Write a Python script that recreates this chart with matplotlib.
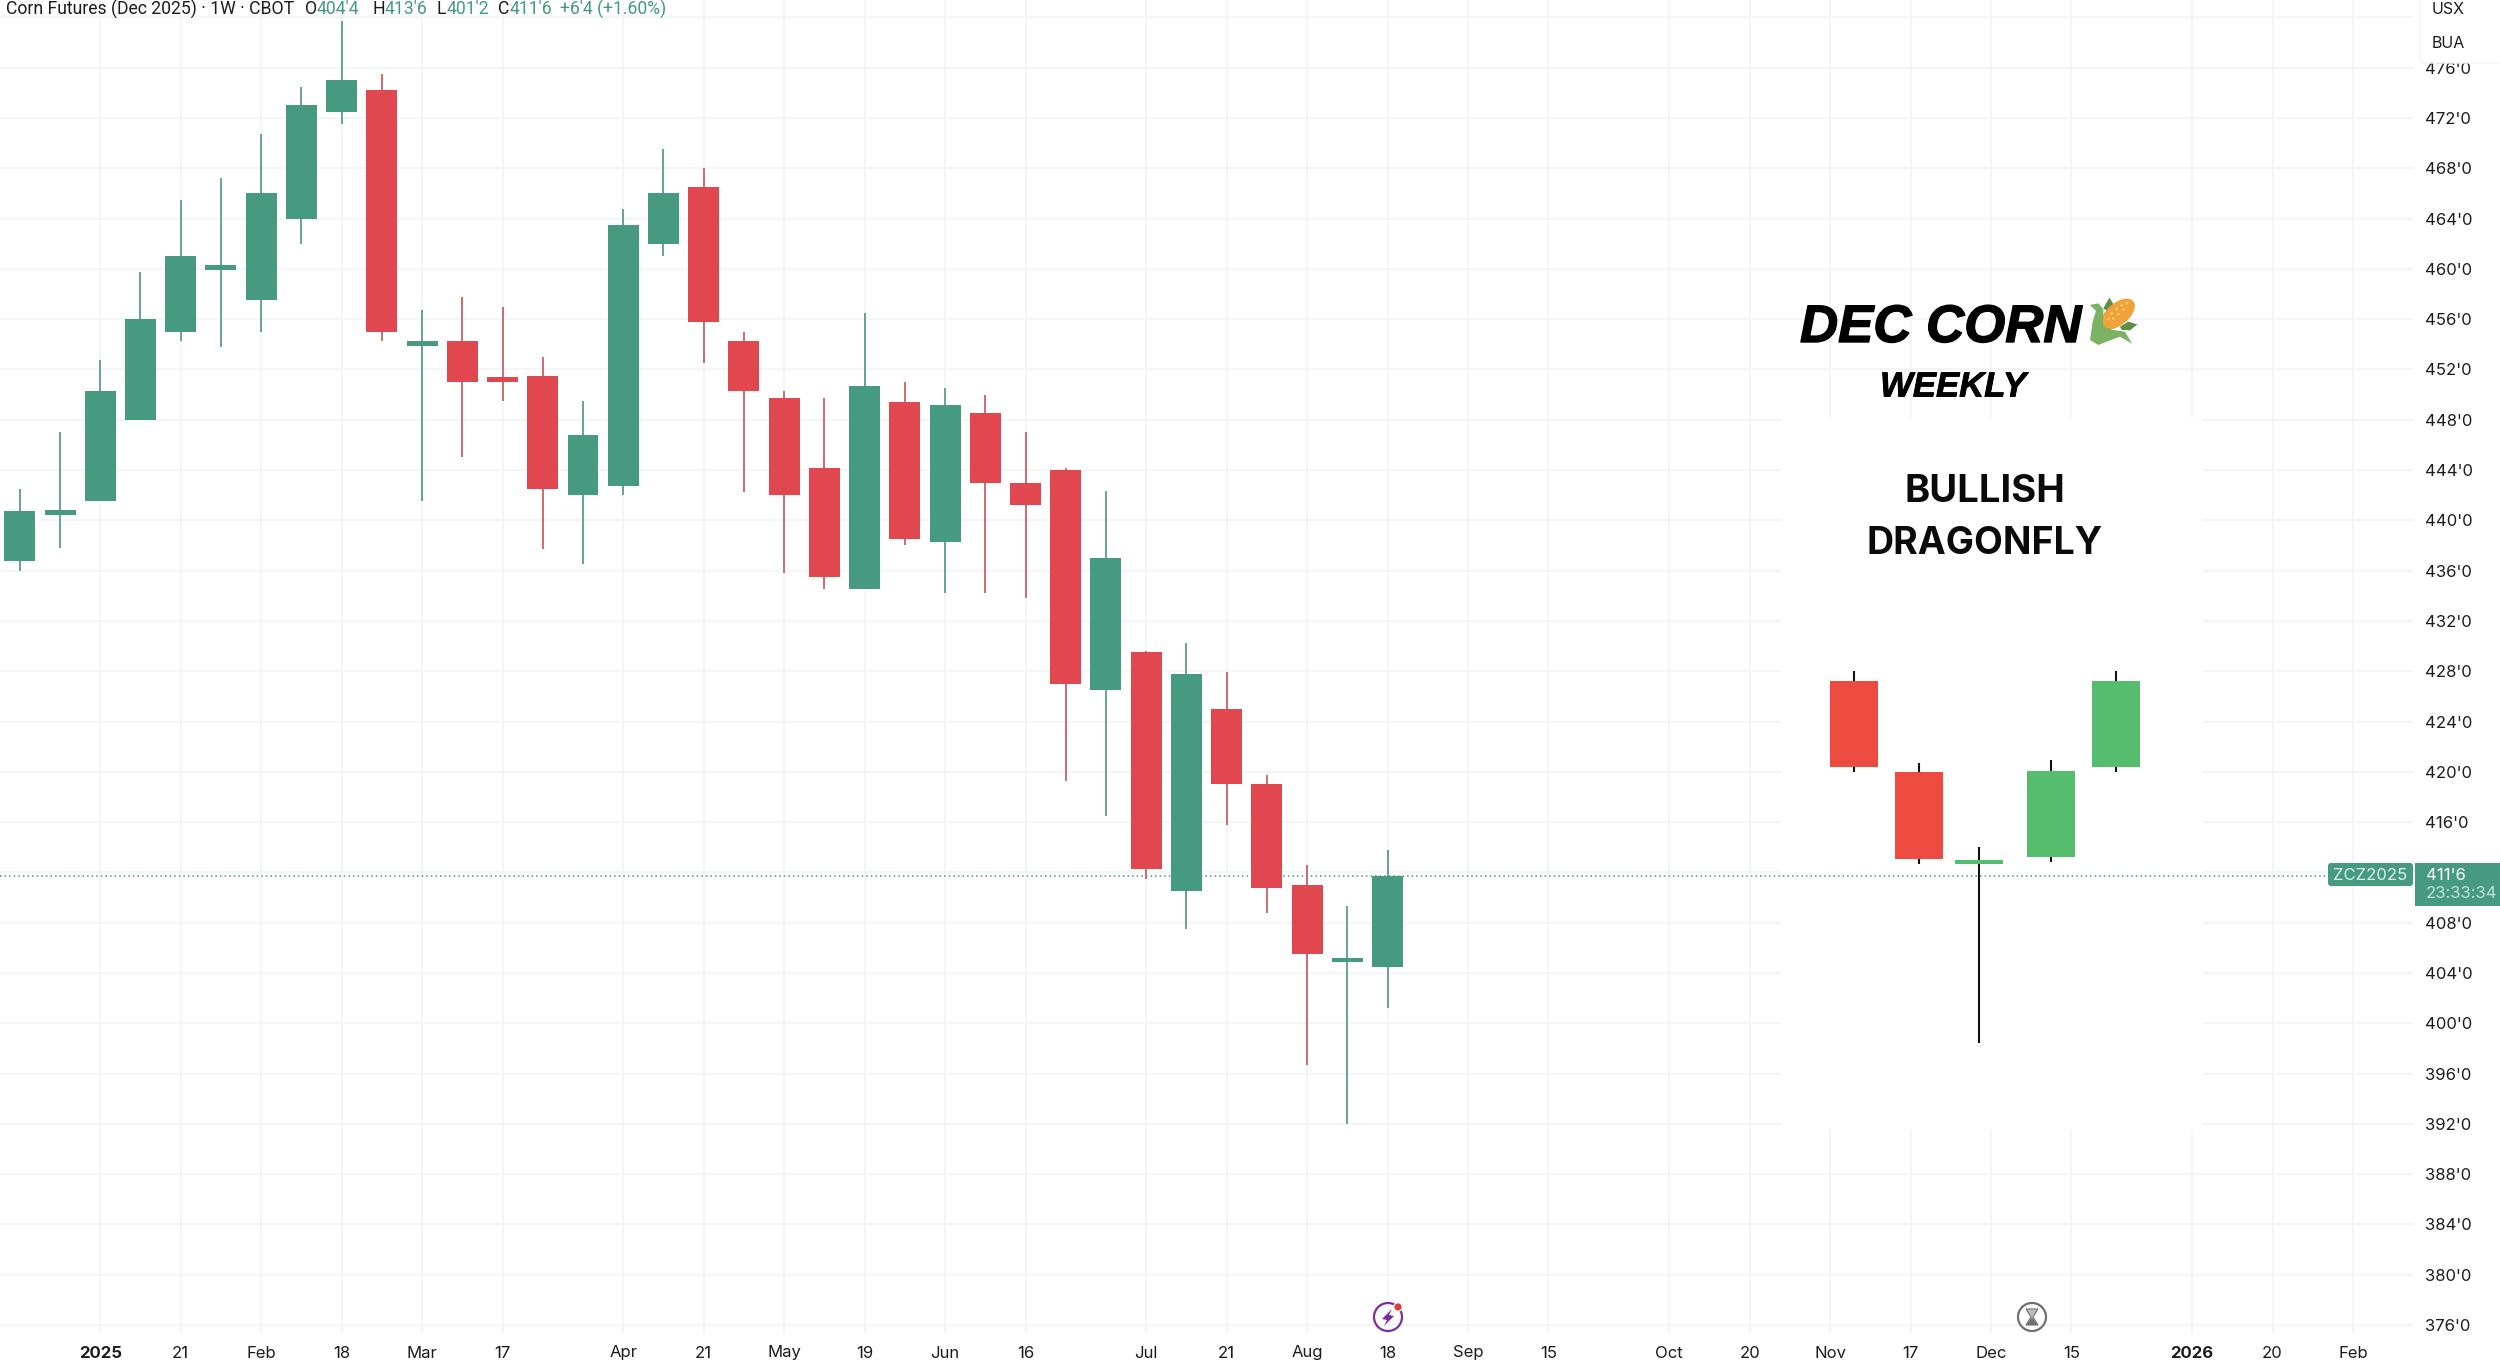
import matplotlib
matplotlib.use("Agg")
import matplotlib.pyplot as plt
import matplotlib.patheffects as pe
from matplotlib.patches import Rectangle, FancyBboxPatch, Circle, Ellipse, Polygon

# ---- data ----
opens = [436.75, 440.4, 441.5, 448, 455, 459.9, 457.5, 464, 472.5, 474.25, 453.9, 454.25, 451.4, 451.5, 442, 442.75, 462,
         466.5, 454.25, 449.75, 444.2, 434.5, 449.4, 438.25, 448.5, 443, 444, 426.5, 429.5, 410.5, 425, 419, 411, 404.85, 404.5]
closes = [440.75, 440.8, 450.25, 456, 461, 460.3, 466, 473, 475, 455, 454.3, 451, 451, 442.5, 446.75, 463.5, 466,
          455.75, 450.25, 442, 435.5, 450.7, 438.5, 449.2, 443, 441.2, 427, 437, 412.25, 427.75, 419, 410.75, 405.5, 405.2, 411.75]
highs = [442.5, 447, 452.75, 459.75, 465.5, 467.2, 470.75, 474.5, 479.75, 475.5, 456.75, 457.75, 457, 453, 449.5, 464.75, 469.5,
         468, 455, 450.25, 449.7, 456.5, 451, 450.5, 450, 447, 444.2, 442.3, 429.6, 430.25, 427.9, 419.75, 412.6, 409.35, 413.75]
lows = [436, 437.8, 441.5, 448, 454.3, 453.8, 455, 462, 471.5, 454.25, 441.5, 445, 449.5, 437.75, 436.5, 442, 461,
        452.5, 442.25, 435.8, 434.5, 434.5, 438, 434.2, 434.2, 433.8, 419.25, 416.5, 411.5, 407.5, 415.8, 408.8, 396.7, 392, 401.25]

x_tick_pos = [2, 4, 6, 8, 10, 12, 15, 17, 19, 21, 23, 25, 28, 30, 32, 34, 36, 38, 41, 43, 45, 47, 49, 51, 54, 56, 58]
x_tick_labels = ["2025", "21", "Feb", "18", "Mar", "17", "Apr", "21", "May", "19", "Jun", "16", "Jul", "21", "Aug", "18",
                 "Sep", "15", "Oct", "20", "Nov", "17", "Dec", "15", "2026", "20", "Feb"]
y_ticks = list(range(376, 484, 4))
last_price = 411.75

# inset: the five-candle dragonfly illustration
ins_x = [45.6, 47.2, 48.7, 50.5, 52.1]
ins_open = [427.25, 420, 412.7, 413.2, 420.4]
ins_close = [420.4, 413.05, 413.0, 420.1, 427.25]
ins_high = [428, 420.7, 414, 420.9, 428]
ins_low = [420, 412.7, 398.4, 412.85, 420]

GREEN, RED = "#459A80", "#E0474F"
GREEN_W, RED_W = "#5E9C88", "#C9606A"
INS_GREEN, INS_RED = "#56BC6E", "#EE4B40"
GRID = "#F1F2F4"
W, H = 2500, 1363
TXT = "#1c1c1e"

plt.rcParams["font.family"] = ["Inter", "DejaVu Sans"]
fig = plt.figure(figsize=(25, 13.63), dpi=100, facecolor="white")

# main axes: grid area, 0..2413 px wide and 0..1333 px tall
ax = fig.add_axes([0, 1 - 1333 / H, 2413 / W, 1333 / H])
ax.set_xlim(-0.492, 59.49)
ax.set_ylim(375.36, 481.39)
ax.set_axisbelow(True)
for s in ax.spines.values():
    s.set_visible(False)
ax.grid(True, color=GRID, lw=1.1)
ax.yaxis.tick_right()
ax.set_yticks(y_ticks)
ax.set_yticklabels([f"{v}'0" for v in y_ticks], fontsize=12, color=TXT)
ax.set_xticks(x_tick_pos)
ax.set_xticklabels(x_tick_labels, fontsize=12, color=TXT)
for lab in ax.get_xticklabels():
    if lab.get_text() in ("2025", "2026"):
        lab.set_fontweight("bold")
ax.tick_params(axis="y", length=0, pad=9)
ax.tick_params(axis="x", length=0, pad=9)

# overlay in pixel coordinates for annotations
ov = fig.add_axes([0, 0, 1, 1], zorder=5)
ov.set_xlim(0, W)
ov.set_ylim(H, 0)
ov.axis("off")
ov.patch.set_alpha(0)

# white panel behind the inset
ax.add_patch(Rectangle((1781, 418), 422, 711, transform=ov.transData, fc="white", ec="none", zorder=1.5, clip_on=False))
ax.axhline(last_price, color=GREEN, lw=1.1, ls=(0, (1, 2)), zorder=2.5)

# main candles
for i, (o, h, l, c) in enumerate(zip(opens, highs, lows, closes)):
    up = c >= o
    ax.vlines(i, l, h, color=GREEN_W if up else RED_W, lw=1.3, zorder=3)
    ax.bar(i, abs(c - o), bottom=min(o, c), width=0.77, color=GREEN if up else RED, lw=0, zorder=4)

# inset candles
for x, o, h, l, c in zip(ins_x, ins_open, ins_high, ins_low, ins_close):
    up = c >= o
    ax.vlines(x, l, h, color="#111111", lw=1.5, zorder=3)
    ax.bar(x, abs(c - o), bottom=min(o, c), width=1.19, color=INS_GREEN if up else INS_RED, lw=0, zorder=4)

# header line
hdr = [(6, "Corn Futures (Dec 2025) · 1W · CBOT", TXT), (305, "O", TXT), (317, "404'4", GREEN), (372, "H", TXT), (385, "413'6", GREEN),
       (437, "L", TXT), (447, "401'2", GREEN), (498, "C", TXT), (510, "411'6", GREEN), (560, "+6'4 (+1.60%)", GREEN)]
for x, s, col in hdr:
    ov.text(x, 9, s, fontsize=12.7, color=col, va="center", ha="left", family="Roboto")

# currency / unit box
ov.add_patch(FancyBboxPatch((2420, -20), 100, 83, boxstyle="round,pad=0,rounding_size=6", fc="white", ec="#F3F4F6", lw=1))
ov.text(2432, 9, "USX", fontsize=11.5, color=TXT, va="center")
ov.text(2432, 43, "BUA", fontsize=11.5, color=TXT, va="center")

# last price labels
ov.add_patch(FancyBboxPatch((2328, 863), 85, 23, boxstyle="round,pad=0,rounding_size=3", fc=GREEN, ec="none"))
ov.text(2370, 875, "ZCZ2025", fontsize=12, color="#DDF0EA", va="center", ha="center")
ov.add_patch(Rectangle((2415, 863), 85, 43, fc=GREEN, ec="none"))
ov.text(2426, 875, "411'6", fontsize=12, color="white", va="center")
ov.text(2426, 894, "23:33:34", fontsize=12, color="#BFE3D8", va="center")

# headline texts
ov.text(1800, 328, "DEC CORN", fontsize=38, family="Liberation Sans", weight="bold", style="italic", color="black", va="center",
        path_effects=[pe.withStroke(linewidth=1.0, foreground="black")])
ov.text(1953, 387, "WEEKLY", fontsize=25, family="Liberation Sans", weight="bold", style="italic", color="black", va="center", ha="center",
        path_effects=[pe.withStroke(linewidth=0.6, foreground="black")])
ov.text(1985, 492, "BULLISH", fontsize=27.5, family="Inter", weight="bold", color="#0a0a0a", va="center", ha="center")
ov.text(1985, 544, "DRAGONFLY", fontsize=27, family="Inter", weight="bold", color="#0a0a0a", va="center", ha="center")


# corn icon (zoomed-crop coordinates mapped to pixels)
def cz(pts):
    return [(2070 + a / 3, 285 + b / 3) for a, b in pts]


ov.add_patch(Polygon(cz([(100, 70), (118, 38), (132, 60), (115, 80)]), closed=True, fc="#5F8F45", ec="none", zorder=2))
ov.add_patch(Polygon(cz([(150, 125), (175, 110), (202, 118), (180, 136), (155, 135)]), closed=True, fc="#5F8F45", ec="none", zorder=2))
ov.add_patch(Ellipse((2118, 314), 40, 22, angle=-40, fc="#EFA33A", ec="none", zorder=3))
for a, b in [(125, 85), (140, 72), (155, 60), (170, 55), (115, 102), (130, 100), (145, 88), (160, 74)]:
    ov.add_patch(Circle(cz([(a, b)])[0], 1.3, fc="#F6CB6A", ec="none", zorder=3.5))
ov.add_patch(Polygon(cz([(60, 60), (85, 55), (100, 72), (100, 125), (130, 135), (165, 140), (186, 176), (150, 155), (110, 170),
                         (85, 180), (60, 165), (68, 110), (78, 78)]), closed=True, fc="#7CB264", ec="none", zorder=4))

# event icons
ov.add_patch(Circle((1388, 1317), 14, fc="none", ec="#7B2E9E", lw=1.6))
ov.add_patch(Polygon([(1392, 1309), (1382, 1319), (1387, 1320), (1384, 1326), (1394, 1316), (1389, 1315)], closed=True, fc="#7B2E9E", ec="none"))
ov.add_patch(Circle((1398, 1307), 4.2, fc="#D9413F", ec="white", lw=0.8))
ov.add_patch(Circle((2032, 1317), 14, fc="none", ec="#707070", lw=1.6))
ov.add_patch(Polygon([(2026, 1309), (2038, 1309), (2033, 1317), (2038, 1325), (2026, 1325), (2031, 1317)], closed=True, fc="#BDBDBD", ec="#707070", lw=0.8))
ov.add_patch(Polygon([(2032, 1318), (2038, 1325), (2026, 1325)], closed=True, fc="#707070", ec="none"))

fig.savefig("out.png", dpi=100)
